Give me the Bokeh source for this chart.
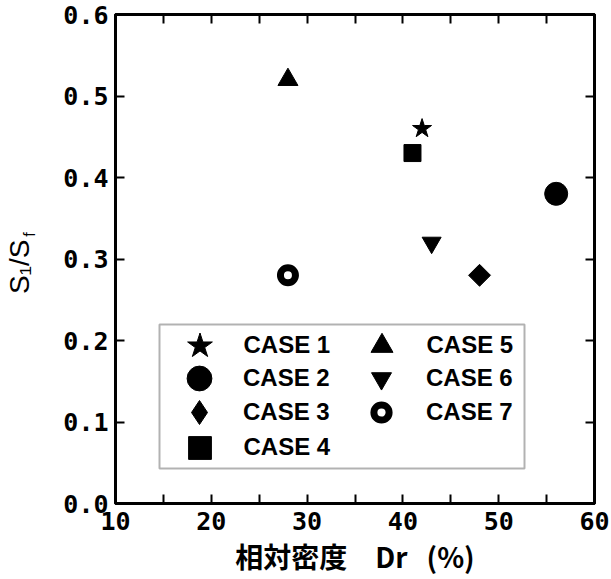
import math
from bokeh.plotting import figure
from bokeh.models import (LinearAxis, Range1d, Legend, LegendItem, BoxAnnotation,
                          FixedTicker, NumeralTickFormatter)
from bokeh.embed import file_html
from bokeh.resources import INLINE

# ---- data -------------------------------------------------------------
cases = ["CASE 1", "CASE 2", "CASE 3", "CASE 4", "CASE 5", "CASE 6", "CASE 7"]
dr = [42, 56, 48, 41, 28, 43, 28]                       # relative density Dr (%)
ratio = [0.46, 0.38, 0.28, 0.43, 0.52, 0.32, 0.28]      # S1/Sf
x_ticks = [10, 20, 30, 40, 50, 60]
y_ticks = [0.0, 0.1, 0.2, 0.3, 0.4, 0.5, 0.6]
x_minor = [(a + b) / 2 for a, b in zip(x_ticks[:-1], x_ticks[1:])]

# ---- styles -----------------------------------------------------------
markers = ["star", "circle", "square", "square", "triangle", "inverted_triangle", "circle"]
legend_markers = ["star", "circle", "diamond", "square", "triangle", "inverted_triangle", "circle"]
angles = [0, 0, math.pi / 4, 0, 0, 0, 0]
sizes = [20, 23, 15.5, 17, 20, 19, 15]
fills = ["black", "black", "black", "black", "black", "black", "white"]
line_widths = [1, 1, 1, 1, 1, 1, 7]
legend_glyph_box = [65, 62, 60, 57, 55, 50, 38]

FONT_NUM = "DejaVu Sans Mono"
NB = "\u00a0"

p = figure(width=611, height=579, output_backend="svg", toolbar_location=None,
           x_range=Range1d(x_ticks[0], x_ticks[-1]), y_range=Range1d(y_ticks[0], y_ticks[-1]),
           min_border_left=114, min_border_right=17, min_border_top=14, min_border_bottom=76)
p.grid.visible = False
p.outline_line_color = "black"
p.outline_line_width = 3
p.background_fill_color = "white"
p.border_fill_color = "white"

bottom = p.below[0]
left = p.left[0]
bottom.ticker = FixedTicker(ticks=x_ticks, minor_ticks=x_minor)
left.ticker = FixedTicker(ticks=y_ticks)
left.formatter = NumeralTickFormatter(format="0.0")

top = LinearAxis(ticker=FixedTicker(ticks=x_ticks, minor_ticks=x_minor))
right = LinearAxis(ticker=FixedTicker(ticks=y_ticks))
p.add_layout(top, "above")
p.add_layout(right, "right")

for ax in [bottom, left, top, right]:
    ax.axis_line_width = 3
    ax.axis_line_color = "black"
    ax.major_tick_in = 9
    ax.major_tick_out = 0
    ax.minor_tick_in = 9
    ax.minor_tick_out = 0
    ax.major_tick_line_width = 2
    ax.minor_tick_line_width = 2
    ax.major_label_text_font = FONT_NUM
    ax.major_label_text_font_style = "bold"
    ax.major_label_text_font_size = "25px"
    ax.major_label_text_color = "black"
    ax.axis_label_text_color = "black"

for ax in [top, right]:
    ax.major_label_text_font_size = "0px"
    ax.major_label_text_color = None
    ax.major_label_standoff = 0

bottom.major_label_standoff = 8
left.major_label_standoff = 7

bottom.axis_label = "相対密度\u3000Dr" + NB * 3 + "(%)"
bottom.axis_label_text_font = "Noto Sans CJK JP"
bottom.axis_label_text_font_style = "bold"
bottom.axis_label_text_font_size = "28px"
bottom.axis_label_standoff = 3

# y label: subscript "f" on the inner axis label, "S1/S" on an outer label-only axis
left.axis_label = NB * 11 + "f"
left.axis_label_text_font = "Liberation Sans"
left.axis_label_text_font_style = "normal"
left.axis_label_text_font_size = "16px"
left.axis_label_standoff = 22

outer = LinearAxis(ticker=FixedTicker(ticks=[]))
outer.axis_line_color = None
outer.major_tick_line_color = None
outer.minor_tick_line_color = None
outer.major_label_text_color = None
outer.major_label_text_font_size = "0px"
outer.major_label_standoff = 0
outer.major_tick_in = 0
outer.major_tick_out = 0
outer.minor_tick_in = 0
outer.minor_tick_out = 0
outer.axis_label = "S\u2081/S" + NB * 2
outer.axis_label_text_font = "Liberation Sans"
outer.axis_label_text_font_style = "normal"
outer.axis_label_text_font_size = "28px"
outer.axis_label_text_color = "black"
outer.axis_label_standoff = -16
p.add_layout(outer, "left")

# ---- points -----------------------------------------------------------
renderers = []
for i in range(len(cases)):
    r = p.scatter(x=[dr[i]], y=[ratio[i]], marker=markers[i], size=sizes[i], angle=angles[i],
                  fill_color=fills[i], line_color="black", line_width=line_widths[i])
    renderers.append(r)

# legend proxies (legend glyph shapes)
proxies = []
for i in range(len(cases)):
    if legend_markers[i] != markers[i]:
        pr = p.scatter(x=[dr[i]], y=[ratio[i]], marker=legend_markers[i], size=sizes[i],
                       fill_color=fills[i], line_color="black", line_width=line_widths[i],
                       visible=False)
        proxies.append(pr)
    else:
        proxies.append(renderers[i])

# ---- legend box + items ----------------------------------------------
box = BoxAnnotation(left=44, right=409, bottom=35, top=179,
                    left_units="screen", right_units="screen",
                    bottom_units="screen", top_units="screen",
                    fill_color="white", fill_alpha=1.0, line_color="black", line_width=2)
p.add_layout(box)

col_cx = [84, 266]
col_text = [128, 311]
row_cy = [158, 125, 91, 56]
for i, name in enumerate(cases):
    col, row = i // 4, i % 4
    gw = legend_glyph_box[i]
    cx, cy = col_cx[col], row_cy[row]
    lg = Legend(items=[LegendItem(label=name, renderers=[proxies[i]])],
                location=(cx - gw / 2, cy - gw / 2),
                glyph_width=gw, glyph_height=gw,
                label_standoff=int(round(col_text[col] - (cx + gw / 2))),
                padding=0, margin=0, spacing=0,
                border_line_color=None, background_fill_alpha=0,
                label_text_font="Liberation Sans", label_text_font_style="bold",
                label_text_font_size="24px", label_text_color="black")
    p.add_layout(lg)

open("out.html", "w").write(file_html(p, INLINE))
